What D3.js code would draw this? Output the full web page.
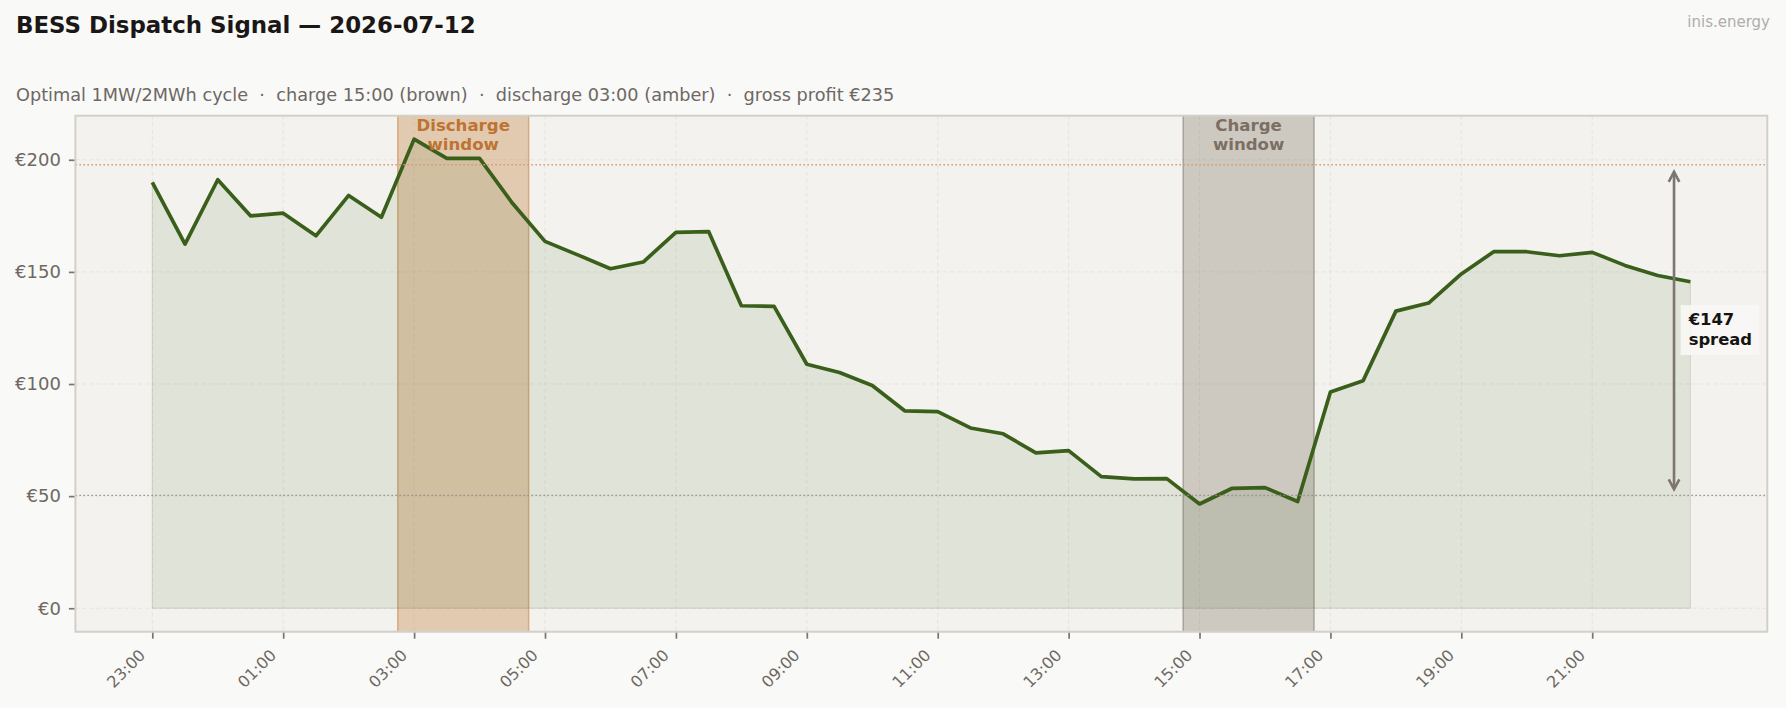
<!DOCTYPE html>
<html>
<head>
<meta charset="utf-8">
<script src="https://cdn.jsdelivr.net/npm/d3@7/dist/d3.min.js"></script>
<style>
  html, body { margin: 0; padding: 0; background: #f9f9f7; }
  svg { display: block; font-family: "DejaVu Sans", sans-serif; }
</style>
</head>
<body>
<svg id="chart" width="1786" height="708"></svg>
<script>
// ---- Data ----
const times = ["23:00","23:30","00:00","00:30","01:00","01:30","02:00","02:30","03:00","03:30",
  "04:00","04:30","05:00","05:30","06:00","06:30","07:00","07:30","08:00","08:30",
  "09:00","09:30","10:00","10:30","11:00","11:30","12:00","12:30","13:00","13:30",
  "14:00","14:30","15:00","15:30","16:00","16:30","17:00","17:30","18:00","18:30",
  "19:00","19:30","20:00","20:30","21:00","21:30","22:00","22:30"];
const prices = [189.9,162.4,191.1,175.0,176.2,166.1,184.1,174.4,209.2,200.6,
  200.6,180.7,163.6,157.6,151.4,154.4,167.6,168.0,134.9,134.6,
  108.8,105.1,99.3,88.0,87.7,80.4,77.8,69.3,70.3,58.7,
  57.7,57.8,46.5,53.5,53.8,47.6,96.4,101.5,132.5,136.1,
  149.1,159.1,159.0,157.2,158.7,152.9,148.4,145.6];
const yTicks = [0, 50, 100, 150, 200];
const xTickEvery = 4;
const dischargeStart = "03:00";
const chargeStart = "15:00";
const windowSlots = 4;
const titleText = "BESS Dispatch Signal \u2014 2026-07-12";
const subtitleText = "Optimal 1MW/2MWh cycle  \u00b7  charge 15:00 (brown)  \u00b7  discharge 03:00 (amber)  \u00b7  gross profit \u20ac235";
const brandText = "inis.energy";

// ---- Layout ----
const W = 1786, H = 708;
const P = { left: 75.4, right: 1767.3, top: 115.7, bottom: 631.7 };
const n = prices.length;
const svg = d3.select("#chart");

const x = d3.scaleLinear()
  .domain([-0.05 * (n - 1), (n - 1) * 1.05])
  .range([P.left, P.right]);
const ymax = d3.max(prices), pad = 0.05 * ymax;
const y = d3.scaleLinear().domain([-pad, ymax + pad]).range([P.bottom, P.top]);

svg.append("rect").attr("width", W).attr("height", H).attr("fill", "#f9f9f7");
svg.append("rect").attr("x", P.left).attr("y", P.top)
  .attr("width", P.right - P.left).attr("height", P.bottom - P.top).attr("fill", "#f3f2ee");

const dIdx = times.indexOf(dischargeStart), cIdx = times.indexOf(chargeStart);
const tickIdx = d3.range(0, n, xTickEvery);

// grid
const grid = svg.append("g");
grid.selectAll("line.gx").data(tickIdx).join("line")
  .attr("x1", d => x(d)).attr("x2", d => x(d)).attr("y1", P.top).attr("y2", P.bottom)
  .attr("stroke", "#e6e3dc").attr("stroke-width", 1).attr("stroke-dasharray", "4,3");
grid.selectAll("line.gy").data(yTicks).join("line")
  .attr("x1", P.left).attr("x2", P.right).attr("y1", d => y(d)).attr("y2", d => y(d))
  .attr("stroke", "#e6e3dc").attr("stroke-width", 1).attr("stroke-dasharray", "4,3");

// bands
const bands = [
  { s: dIdx, fill: "rgb(190,110,35)", edge: "rgba(190,110,35,0.45)", color: "#bd7431", lines: ["Discharge", "window"] },
  { s: cIdx, fill: "rgb(120,105,90)", edge: "rgba(110,100,90,0.45)", color: "#7b6f64", lines: ["Charge", "window"] }
];
bands.forEach(b => {
  const x0 = x(b.s - 0.5), x1 = x(b.s + windowSlots - 0.5);
  svg.append("rect").attr("x", x0).attr("y", P.top).attr("width", x1 - x0).attr("height", P.bottom - P.top)
    .attr("fill", b.fill).attr("fill-opacity", 0.3);
  [x0, x1].forEach(xx => svg.append("line").attr("x1", xx).attr("x2", xx).attr("y1", P.top).attr("y2", P.bottom)
    .attr("stroke", b.edge).attr("stroke-width", 1.5));
});

// area + line
const area = d3.area().x((d, i) => x(i)).y0(y(0)).y1(d => y(d));
svg.append("path").datum(prices).attr("d", area)
  .attr("fill", "rgb(58,95,27)").attr("fill-opacity", 0.1)
  .attr("stroke", "rgba(58,95,27,0.15)").attr("stroke-width", 1);
const line = d3.line().x((d, i) => x(i)).y(d => y(d));
svg.append("path").datum(prices).attr("d", line)
  .attr("fill", "none").attr("stroke", "#3a5f1b").attr("stroke-width", 3.7)
  .attr("stroke-linejoin", "round");

// mean reference lines
const dMean = d3.mean(prices.slice(dIdx, dIdx + windowSlots));
const cMean = d3.mean(prices.slice(cIdx, cIdx + windowSlots));
svg.append("line").attr("x1", P.left).attr("x2", P.right).attr("y1", y(dMean)).attr("y2", y(dMean))
  .attr("stroke", "#d49a6a").attr("stroke-width", 1.3).attr("stroke-dasharray", "1.5,2.5");
svg.append("line").attr("x1", P.left).attr("x2", P.right).attr("y1", y(cMean)).attr("y2", y(cMean))
  .attr("stroke", "#958f89").attr("stroke-width", 1.3).attr("stroke-dasharray", "1.5,2.5");

// band labels
bands.forEach(b => {
  const cx = x(b.s + (windowSlots - 1) / 2);
  const t = svg.append("text").attr("text-anchor", "middle").attr("font-weight", "bold")
    .attr("font-size", 16.6).attr("fill", b.color);
  b.lines.forEach((l, k) => t.append("tspan").attr("x", cx).attr("y", 130.7 + k * 19.4).text(l));
});

// spread arrow
const ax = x(n - 1.5);
const yTop = y(dMean) + 7, yBot = y(cMean) - 6;
svg.append("line").attr("x1", ax).attr("x2", ax).attr("y1", yTop + 1).attr("y2", yBot - 1)
  .attr("stroke", "#7d7571").attr("stroke-width", 2.6);
svg.append("path").attr("d", `M${ax - 5.3},${yTop + 10}L${ax},${yTop}L${ax + 5.3},${yTop + 10}`)
  .attr("fill", "none").attr("stroke", "#7d7571").attr("stroke-width", 2.6);
svg.append("path").attr("d", `M${ax - 5.3},${yBot - 10}L${ax},${yBot}L${ax + 5.3},${yBot - 10}`)
  .attr("fill", "none").attr("stroke", "#7d7571").attr("stroke-width", 2.6);

const midY = (y(dMean) + y(cMean)) / 2;
const spread = Math.round(dMean - cMean);
const lbl = svg.append("g");
const box = lbl.append("rect").attr("fill", "#f8f7f5").attr("fill-opacity", 0.9);
const tl = lbl.append("text").attr("font-weight", "bold").attr("font-size", 16.4).attr("fill", "#161412");
tl.append("tspan").attr("x", ax + 14.6).attr("y", midY - 5).text("\u20ac" + spread);
tl.append("tspan").attr("x", ax + 14.6).attr("y", midY + 15).text("spread");
const bb = tl.node().getBBox();
box.attr("x", bb.x - 7).attr("y", midY - 25).attr("width", bb.width + 14).attr("height", 50);

// frame
svg.append("rect").attr("x", P.left).attr("y", P.top)
  .attr("width", P.right - P.left).attr("height", P.bottom - P.top)
  .attr("fill", "none").attr("stroke", "#d3cfc9").attr("stroke-width", 2);

// axes
const yAxis = d3.axisLeft(y).tickValues(yTicks).tickFormat(d => "\u20ac" + d).tickSize(5.5).tickPadding(8);
const gy = svg.append("g").attr("transform", `translate(${P.left - 1},0)`).call(yAxis);
gy.select(".domain").remove();
gy.selectAll(".tick line").attr("stroke", "#7a7570").attr("stroke-width", 1.7);
gy.selectAll(".tick text").attr("fill", "#6e6862").attr("font-size", 18)
  .attr("font-family", "DejaVu Sans");

const xAxis = d3.axisBottom(x).tickValues(tickIdx).tickFormat(i => times[i]).tickSize(6);
const gx = svg.append("g").attr("transform", `translate(0,${P.bottom + 1})`).call(xAxis);
gx.select(".domain").remove();
gx.selectAll(".tick line").attr("stroke", "#7a7570").attr("stroke-width", 1.7);
gx.selectAll(".tick text").attr("fill", "#6e6862").attr("font-size", 16)
  .attr("font-family", "DejaVu Sans")
  .attr("text-anchor", "end").attr("dy", null).attr("y", null)
  .attr("dominant-baseline", "hanging")
  .attr("transform", "translate(-15,15) rotate(-45)");

// titles
svg.append("text").attr("x", 16).attr("y", 33).attr("font-weight", "bold").attr("font-size", 22.9)
  .attr("fill", "#1a1716").text(titleText);
svg.append("text").attr("x", 16).attr("y", 101).attr("font-size", 17.7)
  .style("white-space", "pre").attr("xml:space", "preserve")
  .attr("fill", "#6d6864").text(subtitleText);
svg.append("text").attr("x", 1770).attr("y", 27).attr("text-anchor", "end").attr("font-size", 15)
  .attr("fill", "#b0adaa").text(brandText);
</script>
</body>
</html>
